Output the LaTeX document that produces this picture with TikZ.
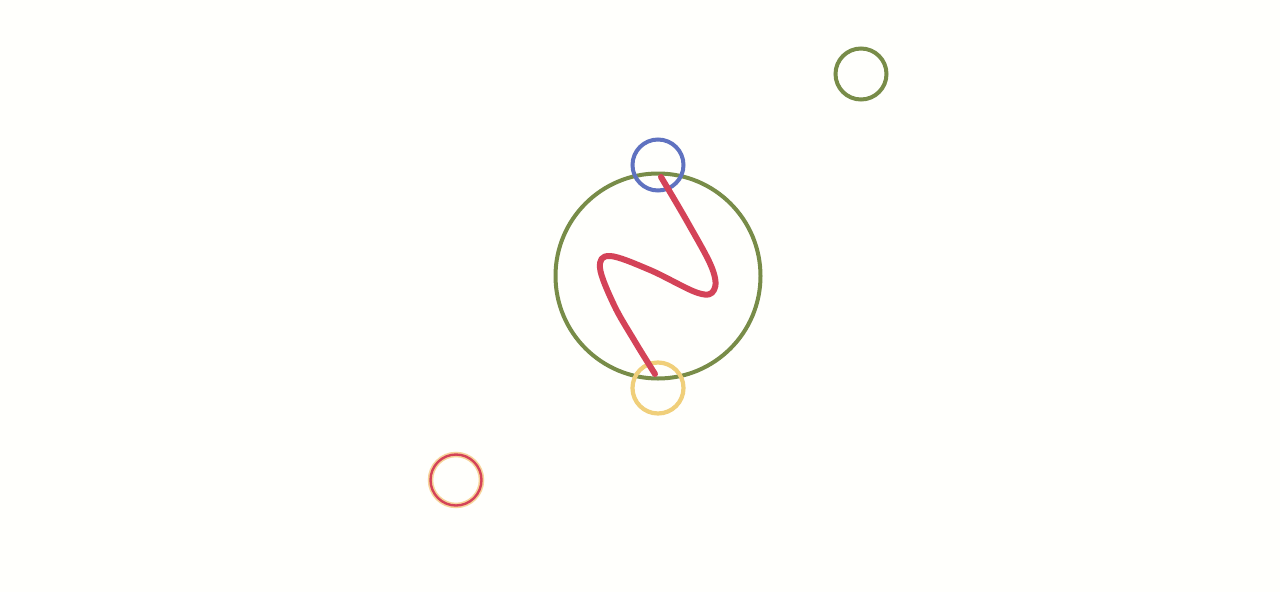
\documentclass[tikz,border=0pt]{standalone}
\begin{document}
\begin{tikzpicture}[x=1pt,y=-1pt,
  ring/.style={circle,draw,inner sep=0pt,minimum size=#1},
  ring/.default=50pt]
\definecolor{olive}{HTML}{788C48}
\definecolor{bluec}{HTML}{5F72C0}
\definecolor{yellowc}{HTML}{F0CF7A}
\definecolor{redc}{HTML}{D44358}
\definecolor{peach}{HTML}{F7D49A}
\definecolor{bg}{HTML}{FFFFFC}
\fill[bg] (0,0) rectangle (1280,592);
\useasboundingbox (0,0) rectangle (1280,592);
\node[ring=205pt,draw=olive,line width=4pt] (big) at (658,276) {};
\node[ring=51pt,draw=bluec,line width=4pt] (top) at (658,165) {};
\node[ring=51pt,draw=yellowc,line width=4.2pt] (bottom) at (658,388) {};
\node[ring=51pt,draw=peach,line width=5.5pt] (redhalo) at (456,480) {};
\node[ring=51pt,draw=redc,line width=2.4pt] (red) at (456,480) {};
\node[ring=51pt,draw=olive,line width=4pt] (green) at (861,74) {};
\coordinate (s) at (661,177);
\coordinate (e) at (655,374);
\draw[redc,line width=6pt,line cap=round,line join=round]
  plot[smooth,tension=0.6] coordinates {(s) (688,223) (712,268) (714,290) (698,293) (650,270) (610,256) (600,268) (614,305) (634,340) (e)};
\end{tikzpicture}
\end{document}
